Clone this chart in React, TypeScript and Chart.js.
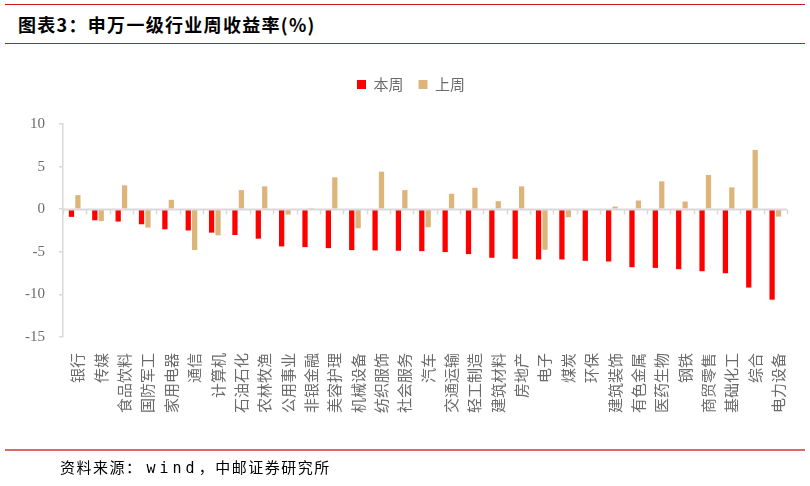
import React, { useEffect, useRef } from "react";
import { Chart, registerables } from "chart.js";

Chart.register(...registerables);

const categories: string[] = [
  "银行", "传媒", "食品饮料", "国防军工", "家用电器", "通信", "计算机", "石油石化",
  "农林牧渔", "公用事业", "非银金融", "美容护理", "机械设备", "纺织服饰", "社会服务",
  "汽车", "交通运输", "轻工制造", "建筑材料", "房地产", "电子", "煤炭", "环保",
  "建筑装饰", "有色金属", "医药生物", "钢铁", "商贸零售", "基础化工", "综合", "电力设备",
];

const thisWeek: number[] = [
  -0.9, -1.3, -1.45, -1.77, -2.36, -2.5, -2.75, -3.03, -3.46, -4.37, -4.45, -4.57,
  -4.8, -4.84, -4.88, -4.92, -5.04, -5.27, -5.7, -5.82, -5.9, -5.9, -6.06, -6.14,
  -6.81, -6.89, -7.04, -7.28, -7.52, -9.2, -10.62,
];

const lastWeek: number[] = [
  1.65, -1.4, 2.8, -2.16, 1.1, -4.8, -3.07, 2.24, 2.68, -0.63, 0.15, 3.74,
  -2.24, 4.4, 2.24, -2.12, 1.81, 2.52, 0.94, 2.68, -4.76, -0.94, 0.0, 0.31,
  1.02, 3.27, 0.9, 4.01, 2.56, 6.96, -0.87,
];

const seriesNames: string[] = ["本周", "上周"];
const seriesColors: string[] = ["#FF0000", "#DDB57B"];
const yTicks: number[] = [10, 5, 0, -5, -10, -15];

const W = 810;
const H = 486;

const legendSpacer = {
  id: "legendSpacer",
  beforeLayout(chart: any) {
    const lg = chart.legend;
    if (lg && !lg._spaced) {
      const fit = lg.fit;
      lg.fit = function () {
        fit.call(this);
        this.height = 62;
      };
      lg._spaced = true;
    }
  },
};

const zeroLine = {
  id: "zeroLine",
  afterDatasetsDraw(chart: any) {
    const { ctx, chartArea, scales } = chart;
    const y0 = Math.round(scales.y.getPixelForValue(0)) + 0.5;
    ctx.save();
    ctx.strokeStyle = "#D9D9D9";
    ctx.lineWidth = 2;
    ctx.beginPath();
    ctx.moveTo(chartArea.left, y0);
    ctx.lineTo(chartArea.right, y0);
    ctx.stroke();
    ctx.lineWidth = 1.5;
    for (let i = 0; i <= categories.length; i++) {
      const x = Math.round(scales.x.getPixelForValue(i - 0.5)) + 0.5;
      ctx.beginPath();
      ctx.moveTo(x, y0);
      ctx.lineTo(x, y0 + 5);
      ctx.stroke();
    }
    ctx.restore();
  },
};

export default function App() {
  const ref = useRef<HTMLCanvasElement | null>(null);

  useEffect(() => {
    if (!ref.current) return;
    const chart = new Chart(ref.current, {
      type: "bar",
      data: {
        labels: categories,
        datasets: [
          {
            label: seriesNames[0],
            data: thisWeek,
            backgroundColor: seriesColors[0],
            categoryPercentage: 0.55,
            barPercentage: 0.82,
          },
          {
            label: seriesNames[1],
            data: lastWeek,
            backgroundColor: seriesColors[1],
            categoryPercentage: 0.55,
            barPercentage: 0.82,
          },
        ],
      },
      options: {
        responsive: false,
        animation: false,
        layout: { padding: { left: 12, right: 0, top: 62, bottom: 0 } },
        plugins: {
          legend: {
            display: true,
            position: "top",
            labels: {
              boxWidth: 9,
              boxHeight: 9,
              padding: 15,
              color: "#6b6b6b",
              font: { family: "'Noto Sans CJK SC'", size: 15 },
            },
          },
          tooltip: { enabled: false },
        },
        scales: {
          x: {
            grid: { display: false },
            border: { display: false },
            ticks: {
              autoSkip: false,
              minRotation: 90,
              maxRotation: 90,
              padding: 8,
              labelOffset: 3,
              color: "#6b6b6b",
              font: { family: "'Noto Sans CJK SC'", size: 15 },
            },
            afterFit: (s: any) => {
              s.height = 149;
            },
          },
          y: {
            min: -15,
            max: 10,
            afterBuildTicks: (s: any) => {
              s.ticks = yTicks.map((v) => ({ value: v }));
            },
            grid: {
              display: true,
              drawOnChartArea: false,
              drawTicks: true,
              tickLength: 4,
              color: "#D9D9D9",
              lineWidth: 1.5,
            },
            border: { display: true, color: "#D9D9D9", width: 1.5 },
            ticks: {
              padding: 14,
              color: "#6b6b6b",
              font: { family: "'Liberation Serif', 'Times New Roman', serif", size: 15 },
            },
            afterFit: (s: any) => {
              s.width = 51;
            },
          },
          yRight: {
            position: "right",
            display: true,
            grid: { display: false },
            border: { display: false },
            ticks: { display: false },
            afterFit: (s: any) => {
              s.width = 23;
            },
          },
        },
      },
      plugins: [legendSpacer, zeroLine],
    } as any);
    return () => chart.destroy();
  }, []);

  return (
    <div style={{ position: "fixed", left: 0, top: 0, width: W, height: H, background: "#fff" }}>
      <div style={{ position: "absolute", left: 5, top: 4, width: 800, height: 0, borderTop: "1.5px solid #C8161D" }} />
      <div
        style={{
          position: "absolute",
          left: 18,
          top: 12,
          fontFamily: "'Noto Sans CJK SC', sans-serif",
          fontWeight: 700,
          fontSize: 18,
          lineHeight: "24px",
          color: "#000",
          letterSpacing: 1.3,
          whiteSpace: "nowrap",
        }}
      >
        图表3：申万一级行业周收益率(%)
      </div>
      <div style={{ position: "absolute", left: 5, top: 43, width: 800, height: 0, borderTop: "1.5px solid #C8161D" }} />
      <canvas
        ref={ref}
        width={W}
        height={H}
        style={{ position: "absolute", left: 0, top: 0, width: W, height: H }}
      />
      <div style={{ position: "absolute", left: 5, top: 449, width: 800, height: 0, borderTop: "2px solid #D96A6A" }} />
      <div
        style={{
          position: "absolute",
          left: 60,
          top: 456,
          fontFamily: "'Noto Sans CJK SC', sans-serif",
          fontSize: 15,
          lineHeight: "22px",
          color: "#000",
          letterSpacing: 1.5,
          whiteSpace: "nowrap",
        }}
      >
        资料来源：
        <span style={{ fontFamily: "'DejaVu Sans Mono', monospace", letterSpacing: 4, marginLeft: 4 }}>wind</span>
        ，中邮证券研究所
      </div>
    </div>
  );
}
